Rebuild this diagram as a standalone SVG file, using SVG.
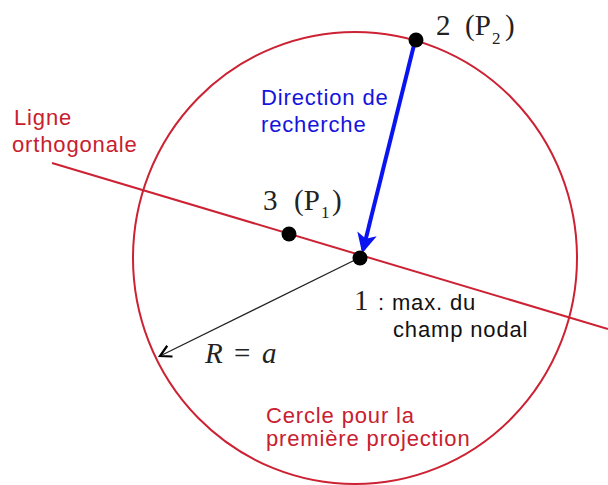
<svg xmlns="http://www.w3.org/2000/svg" width="608" height="485" viewBox="0 0 608 485">
<defs>
<style>
.red{stroke:#cc2233;stroke-width:2;fill:none}
.lbl{font-family:"Liberation Sans",Arial,sans-serif;font-size:22px;letter-spacing:0.85px}
.rt{fill:#c8202e}
.bt{fill:#1414dc}
.kt{fill:#111}
.ser{font-family:"Liberation Serif","Times New Roman",serif;font-size:29px;fill:#222}
.it{font-style:italic}
.sub{font-family:"Liberation Serif","Times New Roman",serif;font-size:17px;fill:#222}
.dot{fill:#000}
</style>
<marker id="blueHead" viewBox="0 0 12 12" refX="10" refY="6" markerWidth="5" markerHeight="5" orient="auto" markerUnits="strokeWidth">
<path d="M0,0 L12,6 L0,12 L3,6 Z" fill="#0a14f0"/>
</marker>
<marker id="openHead" viewBox="0 0 14 14" refX="12" refY="7" markerWidth="14" markerHeight="14" orient="auto" markerUnits="userSpaceOnUse">
<path d="M1,1 L12,7 L1,13" fill="none" stroke="#000" stroke-width="2.2"/>
</marker>
</defs>
<rect width="608" height="485" fill="#fff"/>
<g id="circle">
<ellipse class="red" cx="355" cy="258" rx="222" ry="226"/>
</g>
<g id="connectors">
<line id="ortho-line" class="red" x1="52" y1="163" x2="608" y2="329"/>
<line id="radius" x1="359" y1="258" x2="160" y2="356" stroke="#222" stroke-width="1.3" marker-end="url(#openHead)"/>
<line id="search-dir" x1="415" y1="41" x2="363" y2="250" stroke="#0a14f0" stroke-width="4" marker-end="url(#blueHead)"/>
</g>
<g id="p2">
<circle class="dot" cx="416" cy="40" r="7.5"/>
<text class="ser" x="436" y="35">2</text>
<text class="ser" x="465" y="35">(P</text>
<text class="sub" x="492" y="44">2</text>
<text class="ser" x="505" y="35">)</text>
</g>
<g id="p1">
<circle class="dot" cx="289" cy="234" r="7.5"/>
<text class="ser" x="263" y="210">3</text>
<text class="ser" x="294" y="210">(P</text>
<text class="sub" x="321" y="218">1</text>
<text class="ser" x="332" y="210">)</text>
</g>
<g id="max">
<circle class="dot" cx="360" cy="258" r="7.5"/>
<text class="ser" x="354" y="310">1</text>
<text class="lbl kt" x="378" y="310">: max. du</text>
<text class="lbl kt" x="393" y="337">champ nodal</text>
</g>
<g id="radius-label">
<text class="ser it" x="205" y="363">R</text>
<text class="ser" x="234" y="363">=</text>
<text class="ser it" x="262" y="363">a</text>
</g>
<g id="direction-label">
<text class="lbl bt" x="261" y="105">Direction de</text>
<text class="lbl bt" x="261" y="132">recherche</text>
</g>
<g id="ligne-label">
<text class="lbl rt" x="14" y="125">Ligne</text>
<text class="lbl rt" x="12" y="152">orthogonale</text>
</g>
<g id="cercle-label">
<text class="lbl rt" x="266" y="423">Cercle pour la</text>
<text class="lbl rt" x="266" y="446">première projection</text>
</g>
</svg>
